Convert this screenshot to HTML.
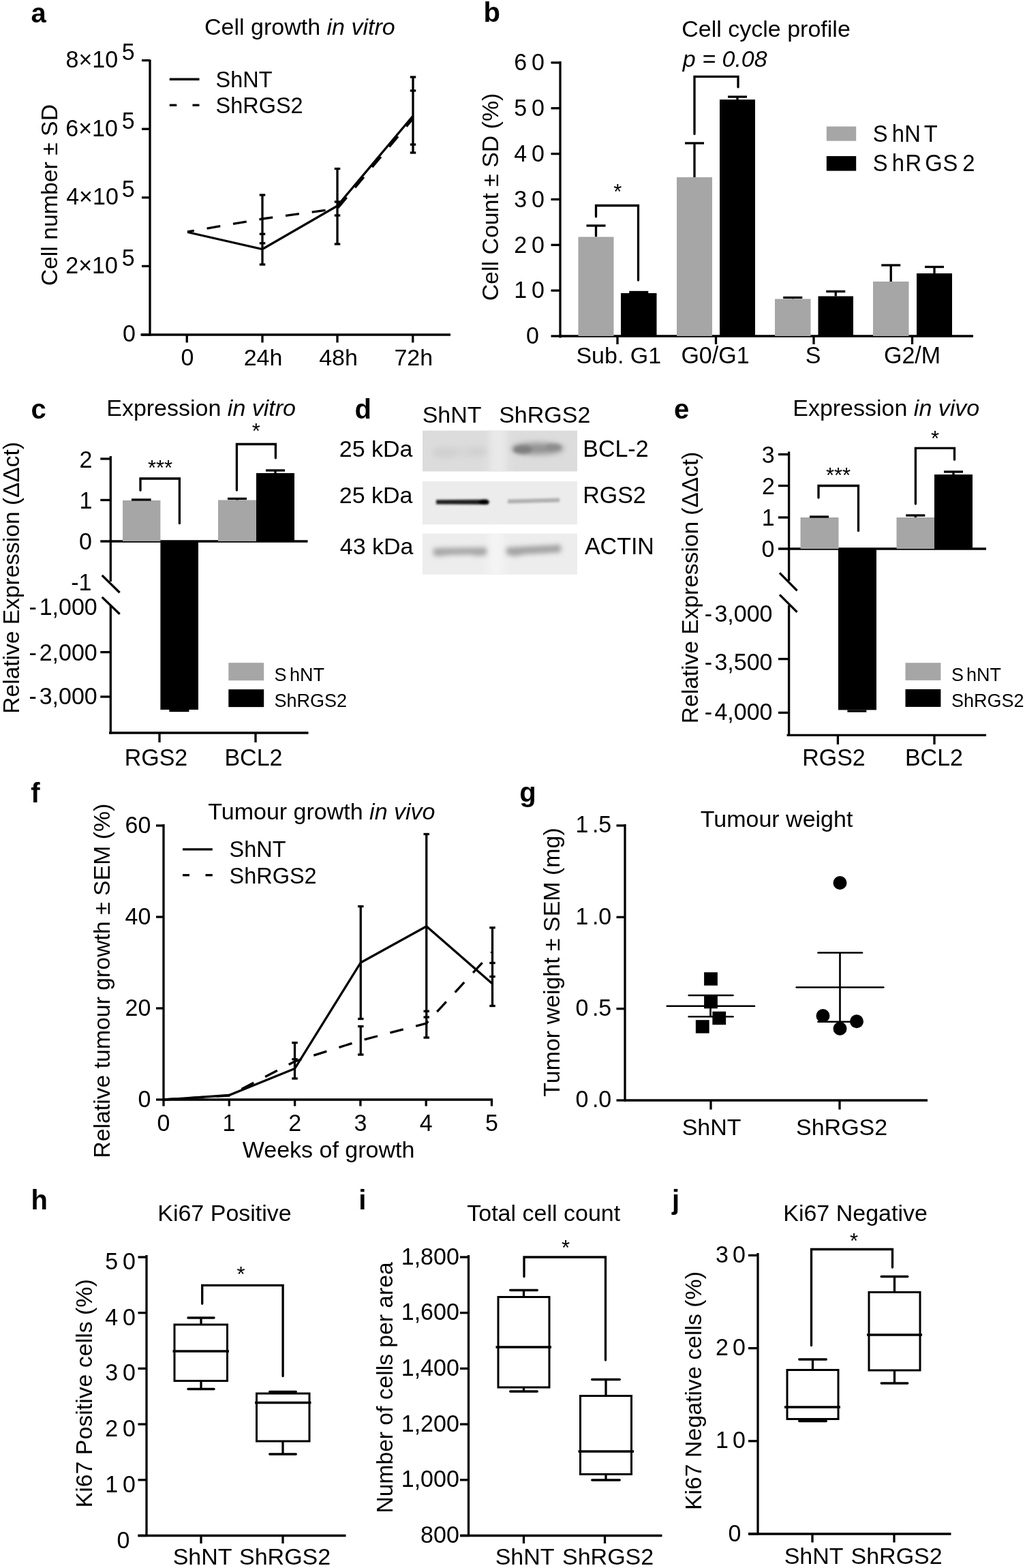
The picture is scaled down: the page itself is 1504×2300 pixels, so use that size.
<!DOCTYPE html>
<html><head><meta charset="utf-8"><title>Figure</title>
<style>
html,body{margin:0;padding:0;background:#fff;}
svg{display:block;}
text{font-family:"Liberation Sans", Arial, Helvetica, sans-serif;fill:#000;}
</style></head><body>
<svg width="1504" height="2300" viewBox="0 0 1504 2300">
<defs><filter id="bl1" filterUnits="userSpaceOnUse" x="600" y="600" width="280" height="260"><feGaussianBlur stdDeviation="1.4"/></filter><filter id="bl3" filterUnits="userSpaceOnUse" x="600" y="600" width="280" height="260"><feGaussianBlur stdDeviation="2.8"/></filter><filter id="bl35" filterUnits="userSpaceOnUse" x="600" y="600" width="280" height="260"><feGaussianBlur stdDeviation="3.5"/></filter><filter id="bl4" filterUnits="userSpaceOnUse" x="600" y="600" width="280" height="260"><feGaussianBlur stdDeviation="4"/></filter><filter id="bl6" filterUnits="userSpaceOnUse" x="600" y="600" width="280" height="260"><feGaussianBlur stdDeviation="6"/></filter><linearGradient id="strip1" x1="0" x2="1" y1="0" y2="0"><stop offset="0" stop-color="#dcdcdc"/><stop offset="0.4" stop-color="#e8e8e8"/><stop offset="0.6" stop-color="#e8e8e8"/><stop offset="1" stop-color="#dcdcdc"/></linearGradient><linearGradient id="strip3" x1="0" x2="1" y1="0" y2="0"><stop offset="0" stop-color="#ededed"/><stop offset="0.5" stop-color="#f4f4f4"/><stop offset="1" stop-color="#ededed"/></linearGradient><clipPath id="blotclip"><rect x="620" y="631.6" width="227" height="59.9"/><rect x="620" y="706.1" width="227" height="63.2"/><rect x="620" y="782.6" width="227" height="60.1"/></clipPath></defs>
<rect width="1504" height="2300" fill="#fff"/>
<g stroke="#000" stroke-linecap="butt" fill="none">
<g>
<text stroke="none" fill="#000" x="45.44" y="32.50" font-size="40" font-weight="bold">a</text>
<text stroke="none" fill="#000" x="300.02" y="51.25" font-size="34">Cell growth <tspan font-style="italic">in vitro</tspan></text>
<line x1="220.00" y1="87.50" x2="220.00" y2="492.50" stroke-width="3.3"/>
<line x1="206.50" y1="491.00" x2="661.00" y2="491.00" stroke-width="3.3"/>
<line x1="208.00" y1="491.00" x2="220.00" y2="491.00" stroke-width="3.3"/>
<text stroke="none" fill="#000" transform="translate(179.92 501.00) scale(1 1.045)" font-size="34">0</text>
<line x1="208.00" y1="390.40" x2="220.00" y2="390.40" stroke-width="3.3"/>
<text stroke="none" fill="#000" transform="translate(96.30 400.90) scale(1 1.045)" font-size="34">2×10</text>
<text stroke="none" fill="#000" transform="translate(178.64 389.90) scale(1 1.045)" font-size="34">5</text>
<line x1="208.00" y1="289.80" x2="220.00" y2="289.80" stroke-width="3.3"/>
<text stroke="none" fill="#000" transform="translate(97.22 300.30) scale(1 1.045)" font-size="34">4×10</text>
<text stroke="none" fill="#000" transform="translate(178.64 289.30) scale(1 1.045)" font-size="34">5</text>
<line x1="208.00" y1="189.20" x2="220.00" y2="189.20" stroke-width="3.3"/>
<text stroke="none" fill="#000" transform="translate(96.27 199.70) scale(1 1.045)" font-size="34">6×10</text>
<text stroke="none" fill="#000" transform="translate(178.64 188.70) scale(1 1.045)" font-size="34">5</text>
<line x1="208.00" y1="88.60" x2="220.00" y2="88.60" stroke-width="3.3"/>
<text stroke="none" fill="#000" transform="translate(96.54 99.10) scale(1 1.045)" font-size="34">8×10</text>
<text stroke="none" fill="#000" transform="translate(178.64 88.10) scale(1 1.045)" font-size="34">5</text>
<line x1="274.25" y1="491.00" x2="274.25" y2="502.50" stroke-width="3.3"/>
<text stroke="none" fill="#000" transform="translate(265.60 535.50) scale(1 1.045)" font-size="34">0</text>
<line x1="385.00" y1="491.00" x2="385.00" y2="502.50" stroke-width="3.3"/>
<text stroke="none" fill="#000" x="357.70" y="535.50" font-size="34">24h</text>
<line x1="495.00" y1="491.00" x2="495.00" y2="502.50" stroke-width="3.3"/>
<text stroke="none" fill="#000" x="468.16" y="535.50" font-size="34">48h</text>
<line x1="605.75" y1="491.00" x2="605.75" y2="502.50" stroke-width="3.3"/>
<text stroke="none" fill="#000" x="578.43" y="535.50" font-size="34">72h</text>
<text stroke="none" fill="#000" x="84.50" y="419.32" font-size="33.791" transform="rotate(-90 84.50 419.32)">Cell number ± SD</text>
<line x1="248.75" y1="116.25" x2="292.50" y2="116.25" stroke-width="3.3"/>
<line x1="248.75" y1="154.25" x2="259.25" y2="154.25" stroke-width="3.3"/>
<line x1="282.50" y1="154.25" x2="292.50" y2="154.25" stroke-width="3.3"/>
<text stroke="none" fill="#000" transform="translate(316.51 128.00) scale(0.9550 1)" font-size="34">ShNT</text>
<text stroke="none" fill="#000" transform="translate(316.51 166.25) scale(0.9550 1)" font-size="34">ShRGS2</text>
<line x1="385.00" y1="286.00" x2="385.00" y2="388.00" stroke-width="3.3"/>
<line x1="380.75" y1="286.00" x2="389.25" y2="286.00" stroke-width="3.3"/>
<line x1="380.75" y1="343.25" x2="389.25" y2="343.25" stroke-width="3.3"/>
<line x1="380.75" y1="356.75" x2="389.25" y2="356.75" stroke-width="3.3"/>
<line x1="380.75" y1="388.00" x2="389.25" y2="388.00" stroke-width="3.3"/>
<line x1="495.00" y1="247.50" x2="495.00" y2="358.00" stroke-width="3.3"/>
<line x1="490.75" y1="247.50" x2="499.25" y2="247.50" stroke-width="3.3"/>
<line x1="490.75" y1="296.00" x2="499.25" y2="296.00" stroke-width="3.3"/>
<line x1="490.75" y1="316.00" x2="499.25" y2="316.00" stroke-width="3.3"/>
<line x1="490.75" y1="358.00" x2="499.25" y2="358.00" stroke-width="3.3"/>
<line x1="606.00" y1="113.00" x2="606.00" y2="224.00" stroke-width="3.3"/>
<line x1="601.75" y1="113.00" x2="610.25" y2="113.00" stroke-width="3.3"/>
<line x1="601.75" y1="133.00" x2="610.25" y2="133.00" stroke-width="3.3"/>
<line x1="601.75" y1="212.00" x2="610.25" y2="212.00" stroke-width="3.3"/>
<line x1="601.75" y1="224.00" x2="610.25" y2="224.00" stroke-width="3.3"/>
<path d="M275.00 340.50 L385.00 365.50 L495.00 302.00 L606.00 170.00" stroke-width="3.3" fill="none" stroke-linejoin="miter"/>
<path d="M275.00 340.00 L385.00 321.00 L495.00 306.00 L606.00 174.00" stroke-width="3.3" fill="none" stroke-dasharray="20 19" stroke-dashoffset="10"/>
</g>
<g>
<text stroke="none" fill="#000" x="709.56" y="32.40" font-size="40" font-weight="bold">b</text>
<text stroke="none" fill="#000" x="1000.27" y="53.50" font-size="34">Cell cycle profile</text>
<text stroke="none" fill="#000" x="1001.85" y="97.50" font-size="34" font-style="italic">p = 0.08</text>
<line x1="822.00" y1="90.00" x2="822.00" y2="495.50" stroke-width="3.3"/>
<line x1="820.50" y1="493.00" x2="1428.00" y2="493.00" stroke-width="3.3"/>
<line x1="808.50" y1="493.00" x2="822.00" y2="493.00" stroke-width="3.3"/>
<text stroke="none" fill="#000" transform="translate(771.92 504.30) scale(1 1.045)" font-size="34">0</text>
<line x1="808.50" y1="426.15" x2="822.00" y2="426.15" stroke-width="3.3"/>
<text stroke="none" fill="#000" transform="translate(754.32 437.45) scale(1 1.045)" font-size="34" letter-spacing="6.7">10</text>
<line x1="808.50" y1="359.30" x2="822.00" y2="359.30" stroke-width="3.3"/>
<text stroke="none" fill="#000" transform="translate(754.32 370.60) scale(1 1.045)" font-size="34" letter-spacing="6.7">20</text>
<line x1="808.50" y1="292.45" x2="822.00" y2="292.45" stroke-width="3.3"/>
<text stroke="none" fill="#000" transform="translate(754.32 303.75) scale(1 1.045)" font-size="34" letter-spacing="6.7">30</text>
<line x1="808.50" y1="225.60" x2="822.00" y2="225.60" stroke-width="3.3"/>
<text stroke="none" fill="#000" transform="translate(754.32 236.90) scale(1 1.045)" font-size="34" letter-spacing="6.7">40</text>
<line x1="808.50" y1="158.75" x2="822.00" y2="158.75" stroke-width="3.3"/>
<text stroke="none" fill="#000" transform="translate(754.32 170.05) scale(1 1.045)" font-size="34" letter-spacing="6.7">50</text>
<line x1="808.50" y1="91.90" x2="822.00" y2="91.90" stroke-width="3.3"/>
<text stroke="none" fill="#000" transform="translate(754.32 103.20) scale(1 1.045)" font-size="34" letter-spacing="6.7">60</text>
<line x1="906.00" y1="493.00" x2="906.00" y2="505.00" stroke-width="3.3"/>
<line x1="1050.50" y1="493.00" x2="1050.50" y2="505.00" stroke-width="3.3"/>
<line x1="1194.00" y1="493.00" x2="1194.00" y2="505.00" stroke-width="3.3"/>
<line x1="1338.50" y1="493.00" x2="1338.50" y2="505.00" stroke-width="3.3"/>
<text stroke="none" fill="#000" x="845.43" y="532.50" font-size="34">Sub. G1</text>
<text stroke="none" fill="#000" transform="translate(999.40 532.50) scale(1 1.045)" font-size="34">G0/G1</text>
<text stroke="none" fill="#000" transform="translate(1181.66 532.50) scale(1 1.045)" font-size="34">S</text>
<text stroke="none" fill="#000" transform="translate(1296.98 532.50) scale(1 1.045)" font-size="34">G2/M</text>
<text stroke="none" fill="#000" x="730.90" y="441.33" font-size="33.896" transform="rotate(-90 730.90 441.33)">Cell Count ± SD (%)</text>
<line x1="874.50" y1="347.50" x2="874.50" y2="331.00" stroke-width="3.3"/>
<line x1="860.50" y1="331.00" x2="888.50" y2="331.00" stroke-width="3.3"/>
<rect x="848.50" y="347.50" width="52.00" height="145.50" fill="#a6a6a6" stroke="none"/>
<line x1="937.25" y1="430.00" x2="937.25" y2="428.50" stroke-width="3.3"/>
<line x1="923.25" y1="428.50" x2="951.25" y2="428.50" stroke-width="3.3"/>
<rect x="911.00" y="430.00" width="52.50" height="63.00" fill="#000" stroke="none"/>
<line x1="1019.00" y1="260.00" x2="1019.00" y2="210.00" stroke-width="3.3"/>
<line x1="1005.00" y1="210.00" x2="1033.00" y2="210.00" stroke-width="3.3"/>
<rect x="993.00" y="260.00" width="52.00" height="233.00" fill="#a6a6a6" stroke="none"/>
<line x1="1082.00" y1="146.00" x2="1082.00" y2="142.00" stroke-width="3.3"/>
<line x1="1068.00" y1="142.00" x2="1096.00" y2="142.00" stroke-width="3.3"/>
<rect x="1056.00" y="146.00" width="52.00" height="347.00" fill="#000" stroke="none"/>
<line x1="1163.25" y1="438.50" x2="1163.25" y2="436.50" stroke-width="3.3"/>
<line x1="1149.25" y1="436.50" x2="1177.25" y2="436.50" stroke-width="3.3"/>
<rect x="1137.00" y="438.50" width="52.50" height="54.50" fill="#a6a6a6" stroke="none"/>
<line x1="1226.25" y1="434.50" x2="1226.25" y2="427.50" stroke-width="3.3"/>
<line x1="1212.25" y1="427.50" x2="1240.25" y2="427.50" stroke-width="3.3"/>
<rect x="1200.50" y="434.50" width="51.50" height="58.50" fill="#000" stroke="none"/>
<line x1="1307.25" y1="413.00" x2="1307.25" y2="389.00" stroke-width="3.3"/>
<line x1="1293.25" y1="389.00" x2="1321.25" y2="389.00" stroke-width="3.3"/>
<rect x="1281.00" y="413.00" width="52.50" height="80.00" fill="#a6a6a6" stroke="none"/>
<line x1="1371.00" y1="401.00" x2="1371.00" y2="391.50" stroke-width="3.3"/>
<line x1="1357.00" y1="391.50" x2="1385.00" y2="391.50" stroke-width="3.3"/>
<rect x="1345.00" y="401.00" width="52.00" height="92.00" fill="#000" stroke="none"/>
<path d="M874.50 317.80 L874.50 301.50 L936.50 301.50 L936.50 411.00" stroke-width="3.3" fill="none" stroke-linejoin="miter" stroke-linecap="round"/>
<text stroke="none" fill="#000" x="900.27" y="292.23" font-size="31">*</text>
<path d="M1019.00 196.50 L1019.00 112.30 L1083.00 112.30 L1083.00 127.80" stroke-width="3.3" fill="none" stroke-linejoin="miter" stroke-linecap="round"/>
<rect x="1212.80" y="185.50" width="43.40" height="21.20" fill="#a6a6a6" stroke="none"/>
<rect x="1212.80" y="229.00" width="43.40" height="21.60" fill="#000" stroke="none"/>
<text stroke="none" fill="#000" transform="translate(1280.69 207.90) scale(0.9500 1)" font-size="34.5">S</text>
<text stroke="none" fill="#000" transform="translate(1308.64 207.90) scale(0.9500 1)" font-size="34.5">h</text>
<text stroke="none" fill="#000" transform="translate(1327.31 207.90) scale(0.9500 1)" font-size="34.5">N</text>
<text stroke="none" fill="#000" transform="translate(1355.68 207.90) scale(0.9500 1)" font-size="34.5">T</text>
<text stroke="none" fill="#000" transform="translate(1280.69 250.60) scale(0.9500 1)" font-size="34.5">S</text>
<text stroke="none" fill="#000" transform="translate(1308.64 250.60) scale(0.9500 1)" font-size="34.5">h</text>
<text stroke="none" fill="#000" transform="translate(1328.51 250.60) scale(0.9500 1)" font-size="34.5">R</text>
<text stroke="none" fill="#000" transform="translate(1357.16 250.60) scale(0.9500 1)" font-size="34.5">G</text>
<text stroke="none" fill="#000" transform="translate(1383.59 250.60) scale(0.9500 1)" font-size="34.5">S</text>
<text stroke="none" fill="#000" transform="translate(1412.16 250.60) scale(0.9500 1)" font-size="34.5">2</text>
</g>
<g>
<text stroke="none" fill="#000" x="45.44" y="613.50" font-size="40" font-weight="bold">c</text>
<text stroke="none" fill="#000" x="156.21" y="610" font-size="34">Expression <tspan font-style="italic">in vitro</tspan></text>
<line x1="162.30" y1="669.00" x2="162.30" y2="853.00" stroke-width="3.3"/>
<line x1="162.30" y1="887.00" x2="162.30" y2="1076.50" stroke-width="3.3"/>
<line x1="149.70" y1="843.90" x2="175.60" y2="869.30" stroke-width="3.3"/>
<line x1="149.70" y1="875.90" x2="175.60" y2="900.80" stroke-width="3.3"/>
<line x1="147.30" y1="673.00" x2="162.30" y2="673.00" stroke-width="3.3"/>
<line x1="147.30" y1="733.50" x2="162.30" y2="733.50" stroke-width="3.3"/>
<line x1="147.30" y1="956.60" x2="162.30" y2="956.60" stroke-width="3.3"/>
<line x1="147.30" y1="1022.00" x2="162.30" y2="1022.00" stroke-width="3.3"/>
<line x1="147.30" y1="794.00" x2="451.50" y2="794.00" stroke-width="3.3"/>
<text stroke="none" fill="#000" transform="translate(116.50 686.00) scale(1 1.045)" font-size="34">2</text>
<text stroke="none" fill="#000" transform="translate(116.46 745.70) scale(1 1.045)" font-size="34">1</text>
<text stroke="none" fill="#000" transform="translate(116.12 806.00) scale(1 1.045)" font-size="34">0</text>
<text stroke="none" fill="#000" transform="translate(104.17 866.30) scale(1 1.045)" font-size="34">-</text>
<text stroke="none" fill="#000" transform="translate(115.46 866.30) scale(1 1.045)" font-size="34">1</text>
<text stroke="none" fill="#000" transform="translate(42.50 901.80) scale(1 1.045)" font-size="34">-</text>
<text stroke="none" fill="#000" transform="translate(57.66 901.80) scale(1 1.045)" font-size="34">1,000</text>
<text stroke="none" fill="#000" transform="translate(42.50 968.60) scale(1 1.045)" font-size="34">-</text>
<text stroke="none" fill="#000" transform="translate(57.66 968.60) scale(1 1.045)" font-size="34">2,000</text>
<text stroke="none" fill="#000" transform="translate(42.50 1033.40) scale(1 1.045)" font-size="34">-</text>
<text stroke="none" fill="#000" transform="translate(57.66 1033.40) scale(1 1.045)" font-size="34">3,000</text>
<line x1="160.00" y1="1075.00" x2="452.50" y2="1075.00" stroke-width="3.3"/>
<line x1="234.00" y1="1075.00" x2="234.00" y2="1089.00" stroke-width="3.3"/>
<line x1="375.00" y1="1075.00" x2="375.00" y2="1089.00" stroke-width="3.3"/>
<text stroke="none" fill="#000" transform="translate(182.66 1122.50) scale(1 1.045)" font-size="34">RGS2</text>
<text stroke="none" fill="#000" transform="translate(329.44 1122.50) scale(1 1.045)" font-size="34">BCL2</text>
<text stroke="none" fill="#000" x="27.70" y="1046.65" font-size="33.529" transform="rotate(-90 27.70 1046.65)">Relative Expression (ΔΔct)</text>
<rect x="180.00" y="734.00" width="55.40" height="60.00" fill="#a6a6a6" stroke="none"/>
<line x1="193.00" y1="733.00" x2="221.60" y2="733.00" stroke-width="3.3"/>
<rect x="235.40" y="794.00" width="55.60" height="247.00" fill="#000" stroke="none"/>
<line x1="248.40" y1="1042.50" x2="277.40" y2="1042.50" stroke-width="3.3"/>
<rect x="320.00" y="733.50" width="56.00" height="60.50" fill="#a6a6a6" stroke="none"/>
<line x1="348.00" y1="733.50" x2="348.00" y2="731.50" stroke-width="3.3"/>
<line x1="334.00" y1="731.50" x2="362.00" y2="731.50" stroke-width="3.3"/>
<rect x="376.00" y="694.00" width="56.00" height="100.00" fill="#000" stroke="none"/>
<line x1="404.00" y1="694.00" x2="404.00" y2="690.00" stroke-width="3.3"/>
<line x1="390.00" y1="690.00" x2="418.00" y2="690.00" stroke-width="3.3"/>
<path d="M206.00 719.20 L206.00 702.00 L263.40 702.00 L263.40 767.70" stroke-width="3.3" fill="none" stroke-linejoin="miter" stroke-linecap="round"/>
<text stroke="none" fill="#000" x="216.91" y="697.33" font-size="31">***</text>
<path d="M347.40 719.00 L347.40 651.50 L404.40 651.50 L404.40 671.80" stroke-width="3.3" fill="none" stroke-linejoin="miter" stroke-linecap="round"/>
<text stroke="none" fill="#000" x="369.87" y="642.73" font-size="31">*</text>
<rect x="335.30" y="972.20" width="51.90" height="26.00" fill="#a6a6a6" stroke="none"/>
<rect x="335.30" y="1011.20" width="51.90" height="25.90" fill="#000" stroke="none"/>
<text stroke="none" fill="#000" transform="translate(402.56 998.80) scale(1 1.045)" font-size="27">S</text>
<text stroke="none" fill="#000" x="424.94" y="998.80" font-size="27">hNT</text>
<text stroke="none" fill="#000" x="402.56" y="1037.10" font-size="27">ShRGS2</text>
</g>
<g>
<text stroke="none" fill="#000" x="520.56" y="613.50" font-size="40" font-weight="bold">d</text>
<text stroke="none" fill="#000" x="619.69" y="620.00" font-size="34">ShNT</text>
<text stroke="none" fill="#000" x="732.19" y="620.00" font-size="34">ShRGS2</text>
<text stroke="none" fill="#000" x="497.80" y="670.00" font-size="34">25 kDa</text>
<text stroke="none" fill="#000" x="497.80" y="737.50" font-size="34">25 kDa</text>
<text stroke="none" fill="#000" x="498.72" y="812.50" font-size="34">43 kDa</text>
<text stroke="none" fill="#000" transform="translate(855.21 670.00) scale(1 1.045)" font-size="34">BCL-2</text>
<text stroke="none" fill="#000" transform="translate(855.21 737.50) scale(1 1.045)" font-size="34">RGS2</text>
<text stroke="none" fill="#000" transform="translate(857.93 812.50) scale(1 1.045)" font-size="34">ACTIN</text>
<rect x="620.00" y="631.60" width="227.00" height="59.90" fill="#dcdcdc" stroke="none"/>
<rect x="620.00" y="706.10" width="227.00" height="63.20" fill="#ececec" stroke="none"/>
<rect x="620.00" y="782.60" width="227.00" height="60.10" fill="#ededed" stroke="none"/>
<g clip-path="url(#blotclip)" stroke="none">
<g filter="url(#bl6)"><rect x="718" y="620" width="26" height="80" fill="#e9e9e9"/><rect x="717" y="775" width="22" height="75" fill="#f4f4f4"/></g>
<g filter="url(#bl4)"><ellipse cx="676" cy="663" rx="40" ry="8" fill="#d5d5d5"/><ellipse cx="652" cy="664" rx="18" ry="8" fill="#d0d0d0"/><ellipse cx="701" cy="662" rx="13" ry="7" fill="#d0d0d0"/><ellipse cx="789" cy="658" rx="38" ry="8.5" fill="#939393"/></g>
<g filter="url(#bl3)"><ellipse cx="767" cy="659.5" rx="14" ry="6" fill="#7f7f7f"/><ellipse cx="812" cy="656" rx="12" ry="4.5" fill="#8c8c8c"/></g>
<g filter="url(#bl1)"><path d="M640 733.3 L716 732.8 L716 740 L640 739.6 Z" fill="#1a1a1a"/><ellipse cx="710" cy="736.4" rx="8" ry="3.8" fill="#000"/><path d="M745 732.6 L821 730.6 L821 736.4 L745 738.6 Z" fill="#b0b0b0"/></g>
<g filter="url(#bl35)"><path d="M636 804 L714 803 L714 814 L700 815.5 L690 813.5 L660 814 L645 816 L636 815 Z" fill="#a6a6a6"/><path d="M743 803 L823 799 L823 810 L800 811.5 L770 813 L755 816 L743 813 Z" fill="#a2a2a2"/></g>
</g>
</g>
<g>
<text stroke="none" fill="#000" x="989.04" y="613.50" font-size="40" font-weight="bold">e</text>
<text stroke="none" fill="#000" x="1163.21" y="610" font-size="34">Expression <tspan font-style="italic">in vivo</tspan></text>
<line x1="1157.60" y1="662.50" x2="1157.60" y2="852.00" stroke-width="3.3"/>
<line x1="1157.60" y1="887.80" x2="1157.60" y2="1079.50" stroke-width="3.3"/>
<line x1="1144.00" y1="840.30" x2="1169.60" y2="866.30" stroke-width="3.3"/>
<line x1="1144.00" y1="872.30" x2="1169.60" y2="897.80" stroke-width="3.3"/>
<line x1="1142.00" y1="666.50" x2="1157.60" y2="666.50" stroke-width="3.3"/>
<line x1="1142.00" y1="712.50" x2="1157.60" y2="712.50" stroke-width="3.3"/>
<line x1="1142.00" y1="759.00" x2="1157.60" y2="759.00" stroke-width="3.3"/>
<line x1="1142.00" y1="966.60" x2="1157.60" y2="966.60" stroke-width="3.3"/>
<line x1="1142.00" y1="1045.40" x2="1157.60" y2="1045.40" stroke-width="3.3"/>
<line x1="1142.00" y1="805.00" x2="1447.00" y2="805.00" stroke-width="3.3"/>
<text stroke="none" fill="#000" transform="translate(1117.69 678.50) scale(1 1.045)" font-size="34">3</text>
<text stroke="none" fill="#000" transform="translate(1117.90 724.50) scale(1 1.045)" font-size="34">2</text>
<text stroke="none" fill="#000" transform="translate(1117.86 771.00) scale(1 1.045)" font-size="34">1</text>
<text stroke="none" fill="#000" transform="translate(1117.52 817.00) scale(1 1.045)" font-size="34">0</text>
<text stroke="none" fill="#000" transform="translate(1033.80 912.00) scale(1 1.045)" font-size="34">-</text>
<text stroke="none" fill="#000" transform="translate(1048.46 912.00) scale(1 1.045)" font-size="34">3,000</text>
<text stroke="none" fill="#000" transform="translate(1033.80 983.40) scale(1 1.045)" font-size="34">-</text>
<text stroke="none" fill="#000" transform="translate(1048.46 983.40) scale(1 1.045)" font-size="34">3,500</text>
<text stroke="none" fill="#000" transform="translate(1033.80 1055.90) scale(1 1.045)" font-size="34">-</text>
<text stroke="none" fill="#000" transform="translate(1048.46 1055.90) scale(1 1.045)" font-size="34">4,000</text>
<line x1="1154.60" y1="1078.30" x2="1447.00" y2="1078.30" stroke-width="3.3"/>
<line x1="1229.40" y1="1078.30" x2="1229.40" y2="1092.00" stroke-width="3.3"/>
<line x1="1371.00" y1="1078.30" x2="1371.00" y2="1092.00" stroke-width="3.3"/>
<text stroke="none" fill="#000" transform="translate(1177.16 1123.30) scale(1 1.045)" font-size="34">RGS2</text>
<text stroke="none" fill="#000" transform="translate(1327.94 1122.50) scale(1 1.045)" font-size="34">BCL2</text>
<text stroke="none" fill="#000" x="1023.70" y="1061.15" font-size="33.521" transform="rotate(-90 1023.70 1061.15)">Relative Expression (ΔΔct)</text>
<rect x="1174.50" y="759.00" width="56.00" height="46.00" fill="#a6a6a6" stroke="none"/>
<line x1="1188.00" y1="758.00" x2="1216.00" y2="758.00" stroke-width="3.3"/>
<rect x="1230.00" y="805.00" width="56.00" height="236.40" fill="#000" stroke="none"/>
<line x1="1243.40" y1="1043.00" x2="1271.30" y2="1043.00" stroke-width="3.3"/>
<rect x="1315.50" y="759.00" width="55.50" height="46.00" fill="#a6a6a6" stroke="none"/>
<line x1="1343.30" y1="759.00" x2="1343.30" y2="756.00" stroke-width="3.3"/>
<line x1="1329.30" y1="756.00" x2="1357.30" y2="756.00" stroke-width="3.3"/>
<rect x="1371.00" y="696.00" width="56.00" height="109.00" fill="#000" stroke="none"/>
<line x1="1399.00" y1="696.00" x2="1399.00" y2="692.00" stroke-width="3.3"/>
<line x1="1385.00" y1="692.00" x2="1413.00" y2="692.00" stroke-width="3.3"/>
<path d="M1201.00 730.00 L1201.00 712.50 L1259.50 712.50 L1259.50 778.50" stroke-width="3.3" fill="none" stroke-linejoin="miter" stroke-linecap="round"/>
<text stroke="none" fill="#000" x="1211.91" y="708.23" font-size="31">***</text>
<path d="M1343.40 739.00 L1343.40 657.40 L1400.50 657.40 L1400.50 674.20" stroke-width="3.3" fill="none" stroke-linejoin="miter" stroke-linecap="round"/>
<text stroke="none" fill="#000" x="1366.07" y="653.63" font-size="31">*</text>
<rect x="1328.50" y="972.25" width="51.90" height="25.65" fill="#a6a6a6" stroke="none"/>
<rect x="1328.50" y="1011.00" width="51.90" height="25.90" fill="#000" stroke="none"/>
<text stroke="none" fill="#000" transform="translate(1396.01 998.80) scale(1 1.045)" font-size="27">S</text>
<text stroke="none" fill="#000" x="1417.89" y="998.80" font-size="27">hNT</text>
<text stroke="none" fill="#000" x="1396.01" y="1036.90" font-size="27">ShRGS2</text>
</g>
<g>
<text stroke="none" fill="#000" x="45.32" y="1176.70" font-size="40" font-weight="bold">f</text>
<text stroke="none" fill="#000" x="305.25" y="1201.5" font-size="34">Tumour growth <tspan font-style="italic">in vivo</tspan></text>
<line x1="240.00" y1="1209.00" x2="240.00" y2="1614.50" stroke-width="3.3"/>
<line x1="238.50" y1="1613.00" x2="723.00" y2="1613.00" stroke-width="3.3"/>
<line x1="229.00" y1="1613.00" x2="240.00" y2="1613.00" stroke-width="3.3"/>
<text stroke="none" fill="#000" transform="translate(202.42 1623.70) scale(1 1.045)" font-size="34">0</text>
<line x1="229.00" y1="1479.00" x2="240.00" y2="1479.00" stroke-width="3.3"/>
<text stroke="none" fill="#000" transform="translate(183.52 1489.70) scale(1 1.045)" font-size="34">20</text>
<line x1="229.00" y1="1345.00" x2="240.00" y2="1345.00" stroke-width="3.3"/>
<text stroke="none" fill="#000" transform="translate(183.52 1355.70) scale(1 1.045)" font-size="34">40</text>
<line x1="229.00" y1="1211.00" x2="240.00" y2="1211.00" stroke-width="3.3"/>
<text stroke="none" fill="#000" transform="translate(183.52 1221.70) scale(1 1.045)" font-size="34">60</text>
<line x1="240.00" y1="1613.00" x2="240.00" y2="1622.50" stroke-width="3.3"/>
<text stroke="none" fill="#000" transform="translate(230.55 1659.00) scale(1 1.045)" font-size="34">0</text>
<line x1="336.30" y1="1613.00" x2="336.30" y2="1622.50" stroke-width="3.3"/>
<text stroke="none" fill="#000" transform="translate(326.39 1659.00) scale(1 1.045)" font-size="34">1</text>
<line x1="432.60" y1="1613.00" x2="432.60" y2="1622.50" stroke-width="3.3"/>
<text stroke="none" fill="#000" transform="translate(423.15 1659.00) scale(1 1.045)" font-size="34">2</text>
<line x1="528.90" y1="1613.00" x2="528.90" y2="1622.50" stroke-width="3.3"/>
<text stroke="none" fill="#000" transform="translate(519.55 1659.00) scale(1 1.045)" font-size="34">3</text>
<line x1="625.20" y1="1613.00" x2="625.20" y2="1622.50" stroke-width="3.3"/>
<text stroke="none" fill="#000" transform="translate(615.85 1659.00) scale(1 1.045)" font-size="34">4</text>
<line x1="721.50" y1="1613.00" x2="721.50" y2="1622.50" stroke-width="3.3"/>
<text stroke="none" fill="#000" transform="translate(712.08 1659.00) scale(1 1.045)" font-size="34">5</text>
<text stroke="none" fill="#000" x="355.83" y="1697.50" font-size="34">Weeks of growth</text>
<text stroke="none" fill="#000" x="161.00" y="1698.77" font-size="33.806" transform="rotate(-90 161.00 1698.77)">Relative tumour growth ± SEM (%)</text>
<line x1="268.00" y1="1245.80" x2="311.80" y2="1245.80" stroke-width="3.3"/>
<line x1="268.00" y1="1283.70" x2="278.00" y2="1283.70" stroke-width="3.3"/>
<line x1="301.50" y1="1283.70" x2="311.80" y2="1283.70" stroke-width="3.3"/>
<text stroke="none" fill="#000" transform="translate(336.51 1257.40) scale(0.9550 1)" font-size="34">ShNT</text>
<text stroke="none" fill="#000" transform="translate(336.51 1295.60) scale(0.9550 1)" font-size="34">ShRGS2</text>
<line x1="432.50" y1="1529.50" x2="432.50" y2="1582.00" stroke-width="3.3"/>
<line x1="428.25" y1="1529.50" x2="436.75" y2="1529.50" stroke-width="3.3"/>
<line x1="428.25" y1="1553.75" x2="436.75" y2="1553.75" stroke-width="3.3"/>
<line x1="428.25" y1="1582.00" x2="436.75" y2="1582.00" stroke-width="3.3"/>
<line x1="529.25" y1="1329.50" x2="529.25" y2="1494.50" stroke-width="3.3"/>
<line x1="525.00" y1="1329.50" x2="533.50" y2="1329.50" stroke-width="3.3"/>
<line x1="525.00" y1="1494.50" x2="533.50" y2="1494.50" stroke-width="3.3"/>
<line x1="529.25" y1="1505.50" x2="529.25" y2="1547.00" stroke-width="3.3"/>
<line x1="525.00" y1="1505.50" x2="533.50" y2="1505.50" stroke-width="3.3"/>
<line x1="525.00" y1="1547.00" x2="533.50" y2="1547.00" stroke-width="3.3"/>
<line x1="625.75" y1="1223.50" x2="625.75" y2="1522.00" stroke-width="3.3"/>
<line x1="621.50" y1="1223.50" x2="630.00" y2="1223.50" stroke-width="3.3"/>
<line x1="621.50" y1="1483.25" x2="630.00" y2="1483.25" stroke-width="3.3"/>
<line x1="621.50" y1="1492.00" x2="630.00" y2="1492.00" stroke-width="3.3"/>
<line x1="621.50" y1="1522.00" x2="630.00" y2="1522.00" stroke-width="3.3"/>
<line x1="722.50" y1="1360.75" x2="722.50" y2="1475.50" stroke-width="3.3"/>
<line x1="718.25" y1="1360.75" x2="726.75" y2="1360.75" stroke-width="3.3"/>
<line x1="718.25" y1="1412.50" x2="726.75" y2="1412.50" stroke-width="3.3"/>
<line x1="718.25" y1="1432.50" x2="726.75" y2="1432.50" stroke-width="3.3"/>
<line x1="718.25" y1="1475.50" x2="726.75" y2="1475.50" stroke-width="3.3"/>
<path d="M240.00 1613.00 L336.00 1606.50 L432.50 1567.50 L529.25 1412.00 L625.75 1358.75 L722.50 1443.00" stroke-width="3.3" fill="none" stroke-linejoin="miter"/>
<path d="M240.00 1613.00 L336.00 1607.00 L432.50 1557.00 L529.25 1526.25 L625.75 1501.00 L722.50 1396.00" stroke-width="3.3" fill="none" stroke-dasharray="20 19"/>
</g>
<g>
<text stroke="none" fill="#000" x="762.16" y="1176.30" font-size="40" font-weight="bold">g</text>
<text stroke="none" fill="#000" x="1027.75" y="1212.50" font-size="34">Tumour weight</text>
<line x1="917.00" y1="1209.00" x2="917.00" y2="1615.50" stroke-width="3.3"/>
<line x1="915.50" y1="1614.00" x2="1361.00" y2="1614.00" stroke-width="3.3"/>
<line x1="904.50" y1="1614.00" x2="917.00" y2="1614.00" stroke-width="3.3"/>
<text stroke="none" fill="#000" transform="translate(844.5 1624.30) scale(1 1.045)" font-size="34">0</text>
<text stroke="none" fill="#000" transform="translate(868.9 1624.30) scale(1 1.045)" font-size="34">.0</text>
<line x1="904.50" y1="1479.65" x2="917.00" y2="1479.65" stroke-width="3.3"/>
<text stroke="none" fill="#000" transform="translate(844.5 1489.95) scale(1 1.045)" font-size="34">0</text>
<text stroke="none" fill="#000" transform="translate(868.9 1489.95) scale(1 1.045)" font-size="34">.5</text>
<line x1="904.50" y1="1345.30" x2="917.00" y2="1345.30" stroke-width="3.3"/>
<text stroke="none" fill="#000" transform="translate(844.5 1355.60) scale(1 1.045)" font-size="34">1</text>
<text stroke="none" fill="#000" transform="translate(868.9 1355.60) scale(1 1.045)" font-size="34">.0</text>
<line x1="904.50" y1="1210.95" x2="917.00" y2="1210.95" stroke-width="3.3"/>
<text stroke="none" fill="#000" transform="translate(844.5 1221.25) scale(1 1.045)" font-size="34">1</text>
<text stroke="none" fill="#000" transform="translate(868.9 1221.25) scale(1 1.045)" font-size="34">.5</text>
<line x1="1043.00" y1="1614.00" x2="1043.00" y2="1627.50" stroke-width="3.3"/>
<line x1="1232.00" y1="1614.00" x2="1232.00" y2="1627.50" stroke-width="3.3"/>
<text stroke="none" fill="#000" x="1000.66" y="1665.00" font-size="34">ShNT</text>
<text stroke="none" fill="#000" x="1167.99" y="1665.00" font-size="34">ShRGS2</text>
<text stroke="none" fill="#000" x="821.00" y="1608.65" font-size="33.931" transform="rotate(-90 821.00 1608.65)">Tumor weight ± SEM (mg)</text>
<rect x="1033.10" y="1426.20" width="19.80" height="19.40" fill="#000" stroke="none"/>
<rect x="1033.10" y="1459.90" width="19.80" height="19.40" fill="#000" stroke="none"/>
<rect x="1045.35" y="1483.70" width="19.80" height="19.40" fill="#000" stroke="none"/>
<rect x="1020.85" y="1496.20" width="19.80" height="19.40" fill="#000" stroke="none"/>
<circle cx="1232.50" cy="1295.00" r="10" fill="#000" stroke="none"/>
<circle cx="1207.50" cy="1490.00" r="10" fill="#000" stroke="none"/>
<circle cx="1232.50" cy="1508.75" r="10" fill="#000" stroke="none"/>
<circle cx="1257.00" cy="1498.25" r="10" fill="#000" stroke="none"/>
<line x1="978.75" y1="1475.75" x2="1107.00" y2="1475.75" stroke-width="2.7" stroke-linecap="round"/>
<line x1="1042.50" y1="1460.00" x2="1042.50" y2="1491.25" stroke-width="2.7"/>
<line x1="1010.75" y1="1460.00" x2="1075.50" y2="1460.00" stroke-width="2.7" stroke-linecap="round"/>
<line x1="1010.75" y1="1491.25" x2="1075.50" y2="1491.25" stroke-width="2.7" stroke-linecap="round"/>
<line x1="1168.75" y1="1448.25" x2="1296.25" y2="1448.25" stroke-width="2.7" stroke-linecap="round"/>
<line x1="1232.50" y1="1397.50" x2="1232.50" y2="1498.75" stroke-width="2.7"/>
<line x1="1200.50" y1="1397.50" x2="1265.00" y2="1397.50" stroke-width="2.7" stroke-linecap="round"/>
<line x1="1200.50" y1="1498.75" x2="1265.00" y2="1498.75" stroke-width="2.7" stroke-linecap="round"/>
</g>
<g>
<text stroke="none" fill="#000" x="45.40" y="1773.90" font-size="40" font-weight="bold">h</text>
<text stroke="none" fill="#000" x="231.21" y="1791.00" font-size="34">Ki67 Positive</text>
<line x1="215.00" y1="1841.00" x2="215.00" y2="2254.00" stroke-width="3.3"/>
<line x1="202.50" y1="2252.50" x2="507.50" y2="2252.50" stroke-width="3.3"/>
<line x1="202.50" y1="2252.50" x2="215.00" y2="2252.50" stroke-width="3.3"/>
<text stroke="none" fill="#000" transform="translate(171.42 2270.50) scale(1 1.045)" font-size="34">0</text>
<line x1="202.50" y1="2170.80" x2="215.00" y2="2170.80" stroke-width="3.3"/>
<text stroke="none" fill="#000" transform="translate(154.32 2188.80) scale(1 1.045)" font-size="34" letter-spacing="6.7">10</text>
<line x1="202.50" y1="2089.10" x2="215.00" y2="2089.10" stroke-width="3.3"/>
<text stroke="none" fill="#000" transform="translate(154.32 2107.10) scale(1 1.045)" font-size="34" letter-spacing="6.7">20</text>
<line x1="202.50" y1="2007.40" x2="215.00" y2="2007.40" stroke-width="3.3"/>
<text stroke="none" fill="#000" transform="translate(154.32 2025.40) scale(1 1.045)" font-size="34" letter-spacing="6.7">30</text>
<line x1="202.50" y1="1925.70" x2="215.00" y2="1925.70" stroke-width="3.3"/>
<text stroke="none" fill="#000" transform="translate(154.32 1943.70) scale(1 1.045)" font-size="34" letter-spacing="6.7">40</text>
<line x1="202.50" y1="1844.00" x2="215.00" y2="1844.00" stroke-width="3.3"/>
<text stroke="none" fill="#000" transform="translate(154.32 1862.00) scale(1 1.045)" font-size="34" letter-spacing="6.7">50</text>
<line x1="295.00" y1="2252.50" x2="295.00" y2="2264.00" stroke-width="3.3"/>
<line x1="415.00" y1="2252.50" x2="415.00" y2="2264.00" stroke-width="3.3"/>
<text stroke="none" fill="#000" x="253.66" y="2295.00" font-size="34">ShNT</text>
<text stroke="none" fill="#000" x="350.99" y="2295.00" font-size="34">ShRGS2</text>
<text stroke="none" fill="#000" x="134.80" y="2211.38" font-size="33.894" transform="rotate(-90 134.80 2211.38)">Ki67 Positive cells (%)</text>
<line x1="295.00" y1="1933.00" x2="295.00" y2="1943.00" stroke-width="3.3"/>
<line x1="295.00" y1="2025.50" x2="295.00" y2="2037.50" stroke-width="3.3"/>
<line x1="275.95" y1="1933.00" x2="314.05" y2="1933.00" stroke-width="3.3" stroke-linecap="round"/>
<line x1="275.95" y1="2037.50" x2="314.05" y2="2037.50" stroke-width="3.3" stroke-linecap="round"/>
<rect x="256.00" y="1943.00" width="77.50" height="82.50" fill="none" stroke-width="3"/>
<line x1="253.50" y1="1982.00" x2="336.00" y2="1982.00" stroke-width="3.3"/>
<line x1="415.00" y1="2041.50" x2="415.00" y2="2044.00" stroke-width="3.3"/>
<line x1="415.00" y1="2114.00" x2="415.00" y2="2133.00" stroke-width="3.3"/>
<line x1="395.70" y1="2041.50" x2="434.30" y2="2041.50" stroke-width="3.3" stroke-linecap="round"/>
<line x1="395.70" y1="2133.00" x2="434.30" y2="2133.00" stroke-width="3.3" stroke-linecap="round"/>
<rect x="376.50" y="2044.00" width="77.50" height="70.00" fill="none" stroke-width="3"/>
<line x1="374.00" y1="2057.50" x2="456.50" y2="2057.50" stroke-width="3.3"/>
<path d="M296.70 1912.30 L296.70 1885.40 L415.10 1885.40 L415.10 2018.50" stroke-width="3.3" fill="none" stroke-linejoin="miter" stroke-linecap="round"/>
<text stroke="none" fill="#000" x="347.47" y="1880.23" font-size="31">*</text>
</g>
<g>
<text stroke="none" fill="#000" x="526.20" y="1773.90" font-size="40" font-weight="bold">i</text>
<text stroke="none" fill="#000" x="685.25" y="1791.00" font-size="34">Total cell count</text>
<line x1="687.50" y1="1841.00" x2="687.50" y2="2254.00" stroke-width="3.3"/>
<line x1="675.00" y1="2252.50" x2="971.50" y2="2252.50" stroke-width="3.3"/>
<line x1="675.00" y1="2252.50" x2="687.50" y2="2252.50" stroke-width="3.3"/>
<text stroke="none" fill="#000" transform="translate(617.11 2263.10) scale(1 1.045)" font-size="34">800</text>
<line x1="675.00" y1="2170.80" x2="687.50" y2="2170.80" stroke-width="3.3"/>
<text stroke="none" fill="#000" transform="translate(588.76 2181.40) scale(1 1.045)" font-size="34">1,000</text>
<line x1="675.00" y1="2089.10" x2="687.50" y2="2089.10" stroke-width="3.3"/>
<text stroke="none" fill="#000" transform="translate(588.76 2099.70) scale(1 1.045)" font-size="34">1,200</text>
<line x1="675.00" y1="2007.40" x2="687.50" y2="2007.40" stroke-width="3.3"/>
<text stroke="none" fill="#000" transform="translate(588.76 2018.00) scale(1 1.045)" font-size="34">1,400</text>
<line x1="675.00" y1="1925.70" x2="687.50" y2="1925.70" stroke-width="3.3"/>
<text stroke="none" fill="#000" transform="translate(588.76 1936.30) scale(1 1.045)" font-size="34">1,600</text>
<line x1="675.00" y1="1844.00" x2="687.50" y2="1844.00" stroke-width="3.3"/>
<text stroke="none" fill="#000" transform="translate(588.76 1854.60) scale(1 1.045)" font-size="34">1,800</text>
<line x1="768.50" y1="2252.50" x2="768.50" y2="2264.00" stroke-width="3.3"/>
<line x1="887.50" y1="2252.50" x2="887.50" y2="2264.00" stroke-width="3.3"/>
<text stroke="none" fill="#000" x="726.66" y="2295.00" font-size="34">ShNT</text>
<text stroke="none" fill="#000" x="824.99" y="2295.00" font-size="34">ShRGS2</text>
<text stroke="none" fill="#000" x="576.00" y="2219.56" font-size="33.634" transform="rotate(-90 576.00 2219.56)">Number of cells per area</text>
<line x1="768.50" y1="1892.50" x2="768.50" y2="1902.50" stroke-width="3.3"/>
<line x1="768.50" y1="2035.00" x2="768.50" y2="2041.00" stroke-width="3.3"/>
<line x1="748.70" y1="1892.50" x2="788.30" y2="1892.50" stroke-width="3.3" stroke-linecap="round"/>
<line x1="748.70" y1="2041.00" x2="788.30" y2="2041.00" stroke-width="3.3" stroke-linecap="round"/>
<rect x="731.00" y="1902.50" width="75.00" height="132.50" fill="none" stroke-width="3"/>
<line x1="727.50" y1="1976.00" x2="809.00" y2="1976.00" stroke-width="3.3"/>
<line x1="889.00" y1="2023.50" x2="889.00" y2="2047.50" stroke-width="3.3"/>
<line x1="889.00" y1="2162.50" x2="889.00" y2="2171.00" stroke-width="3.3"/>
<line x1="868.70" y1="2023.50" x2="909.30" y2="2023.50" stroke-width="3.3" stroke-linecap="round"/>
<line x1="868.70" y1="2171.00" x2="909.30" y2="2171.00" stroke-width="3.3" stroke-linecap="round"/>
<rect x="851.50" y="2047.50" width="75.00" height="115.00" fill="none" stroke-width="3"/>
<line x1="848.50" y1="2129.00" x2="930.00" y2="2129.00" stroke-width="3.3"/>
<path d="M769.00 1872.50 L769.00 1844.00 L888.50 1844.00 L888.50 1995.00" stroke-width="3.3" fill="none" stroke-linejoin="miter" stroke-linecap="round"/>
<text stroke="none" fill="#000" x="823.97" y="1841.33" font-size="31">*</text>
</g>
<g>
<text stroke="none" fill="#000" x="986.04" y="1773.90" font-size="40" font-weight="bold">j</text>
<text stroke="none" fill="#000" x="1149.21" y="1791.00" font-size="34">Ki67 Negative</text>
<line x1="1112.00" y1="1838.00" x2="1112.00" y2="2251.50" stroke-width="3.3"/>
<line x1="1098.00" y1="2250.00" x2="1395.50" y2="2250.00" stroke-width="3.3"/>
<line x1="1098.00" y1="2250.00" x2="1112.00" y2="2250.00" stroke-width="3.3"/>
<text stroke="none" fill="#000" transform="translate(1068.42 2260.50) scale(1 1.045)" font-size="34">0</text>
<line x1="1098.00" y1="2113.80" x2="1112.00" y2="2113.80" stroke-width="3.3"/>
<text stroke="none" fill="#000" transform="translate(1050.02 2124.30) scale(1 1.045)" font-size="34" letter-spacing="6.2">10</text>
<line x1="1098.00" y1="1977.60" x2="1112.00" y2="1977.60" stroke-width="3.3"/>
<text stroke="none" fill="#000" transform="translate(1050.02 1988.10) scale(1 1.045)" font-size="34" letter-spacing="6.2">20</text>
<line x1="1098.00" y1="1841.40" x2="1112.00" y2="1841.40" stroke-width="3.3"/>
<text stroke="none" fill="#000" transform="translate(1050.02 1851.90) scale(1 1.045)" font-size="34" letter-spacing="6.2">30</text>
<line x1="1192.00" y1="2250.00" x2="1192.00" y2="2262.50" stroke-width="3.3"/>
<line x1="1312.00" y1="2250.00" x2="1312.00" y2="2262.50" stroke-width="3.3"/>
<text stroke="none" fill="#000" x="1150.66" y="2294.00" font-size="34">ShNT</text>
<text stroke="none" fill="#000" x="1248.49" y="2294.00" font-size="34">ShRGS2</text>
<text stroke="none" fill="#000" x="1029.50" y="2215.08" font-size="33.866" transform="rotate(-90 1029.50 2215.08)">Ki67 Negative cells (%)</text>
<line x1="1192.50" y1="1994.00" x2="1192.50" y2="2009.50" stroke-width="3.3"/>
<line x1="1192.50" y1="2081.50" x2="1192.50" y2="2084.50" stroke-width="3.3"/>
<line x1="1172.70" y1="1994.00" x2="1212.30" y2="1994.00" stroke-width="3.3" stroke-linecap="round"/>
<line x1="1172.70" y1="2084.50" x2="1212.30" y2="2084.50" stroke-width="3.3" stroke-linecap="round"/>
<rect x="1155.00" y="2009.50" width="75.00" height="72.00" fill="none" stroke-width="3"/>
<line x1="1151.00" y1="2064.00" x2="1233.00" y2="2064.00" stroke-width="3.3"/>
<line x1="1312.50" y1="1872.50" x2="1312.50" y2="1895.50" stroke-width="3.3"/>
<line x1="1312.50" y1="2010.00" x2="1312.50" y2="2029.00" stroke-width="3.3"/>
<line x1="1293.20" y1="1872.50" x2="1331.80" y2="1872.50" stroke-width="3.3" stroke-linecap="round"/>
<line x1="1293.20" y1="2029.00" x2="1331.80" y2="2029.00" stroke-width="3.3" stroke-linecap="round"/>
<rect x="1275.00" y="1895.50" width="75.00" height="114.50" fill="none" stroke-width="3"/>
<line x1="1272.00" y1="1958.00" x2="1353.00" y2="1958.00" stroke-width="3.3"/>
<path d="M1190.50 1973.50 L1190.50 1832.50 L1309.50 1832.50 L1309.50 1859.00" stroke-width="3.3" fill="none" stroke-linejoin="miter" stroke-linecap="round"/>
<text stroke="none" fill="#000" x="1246.97" y="1831.33" font-size="31">*</text>
</g>
</g>
</svg>
</body></html>
